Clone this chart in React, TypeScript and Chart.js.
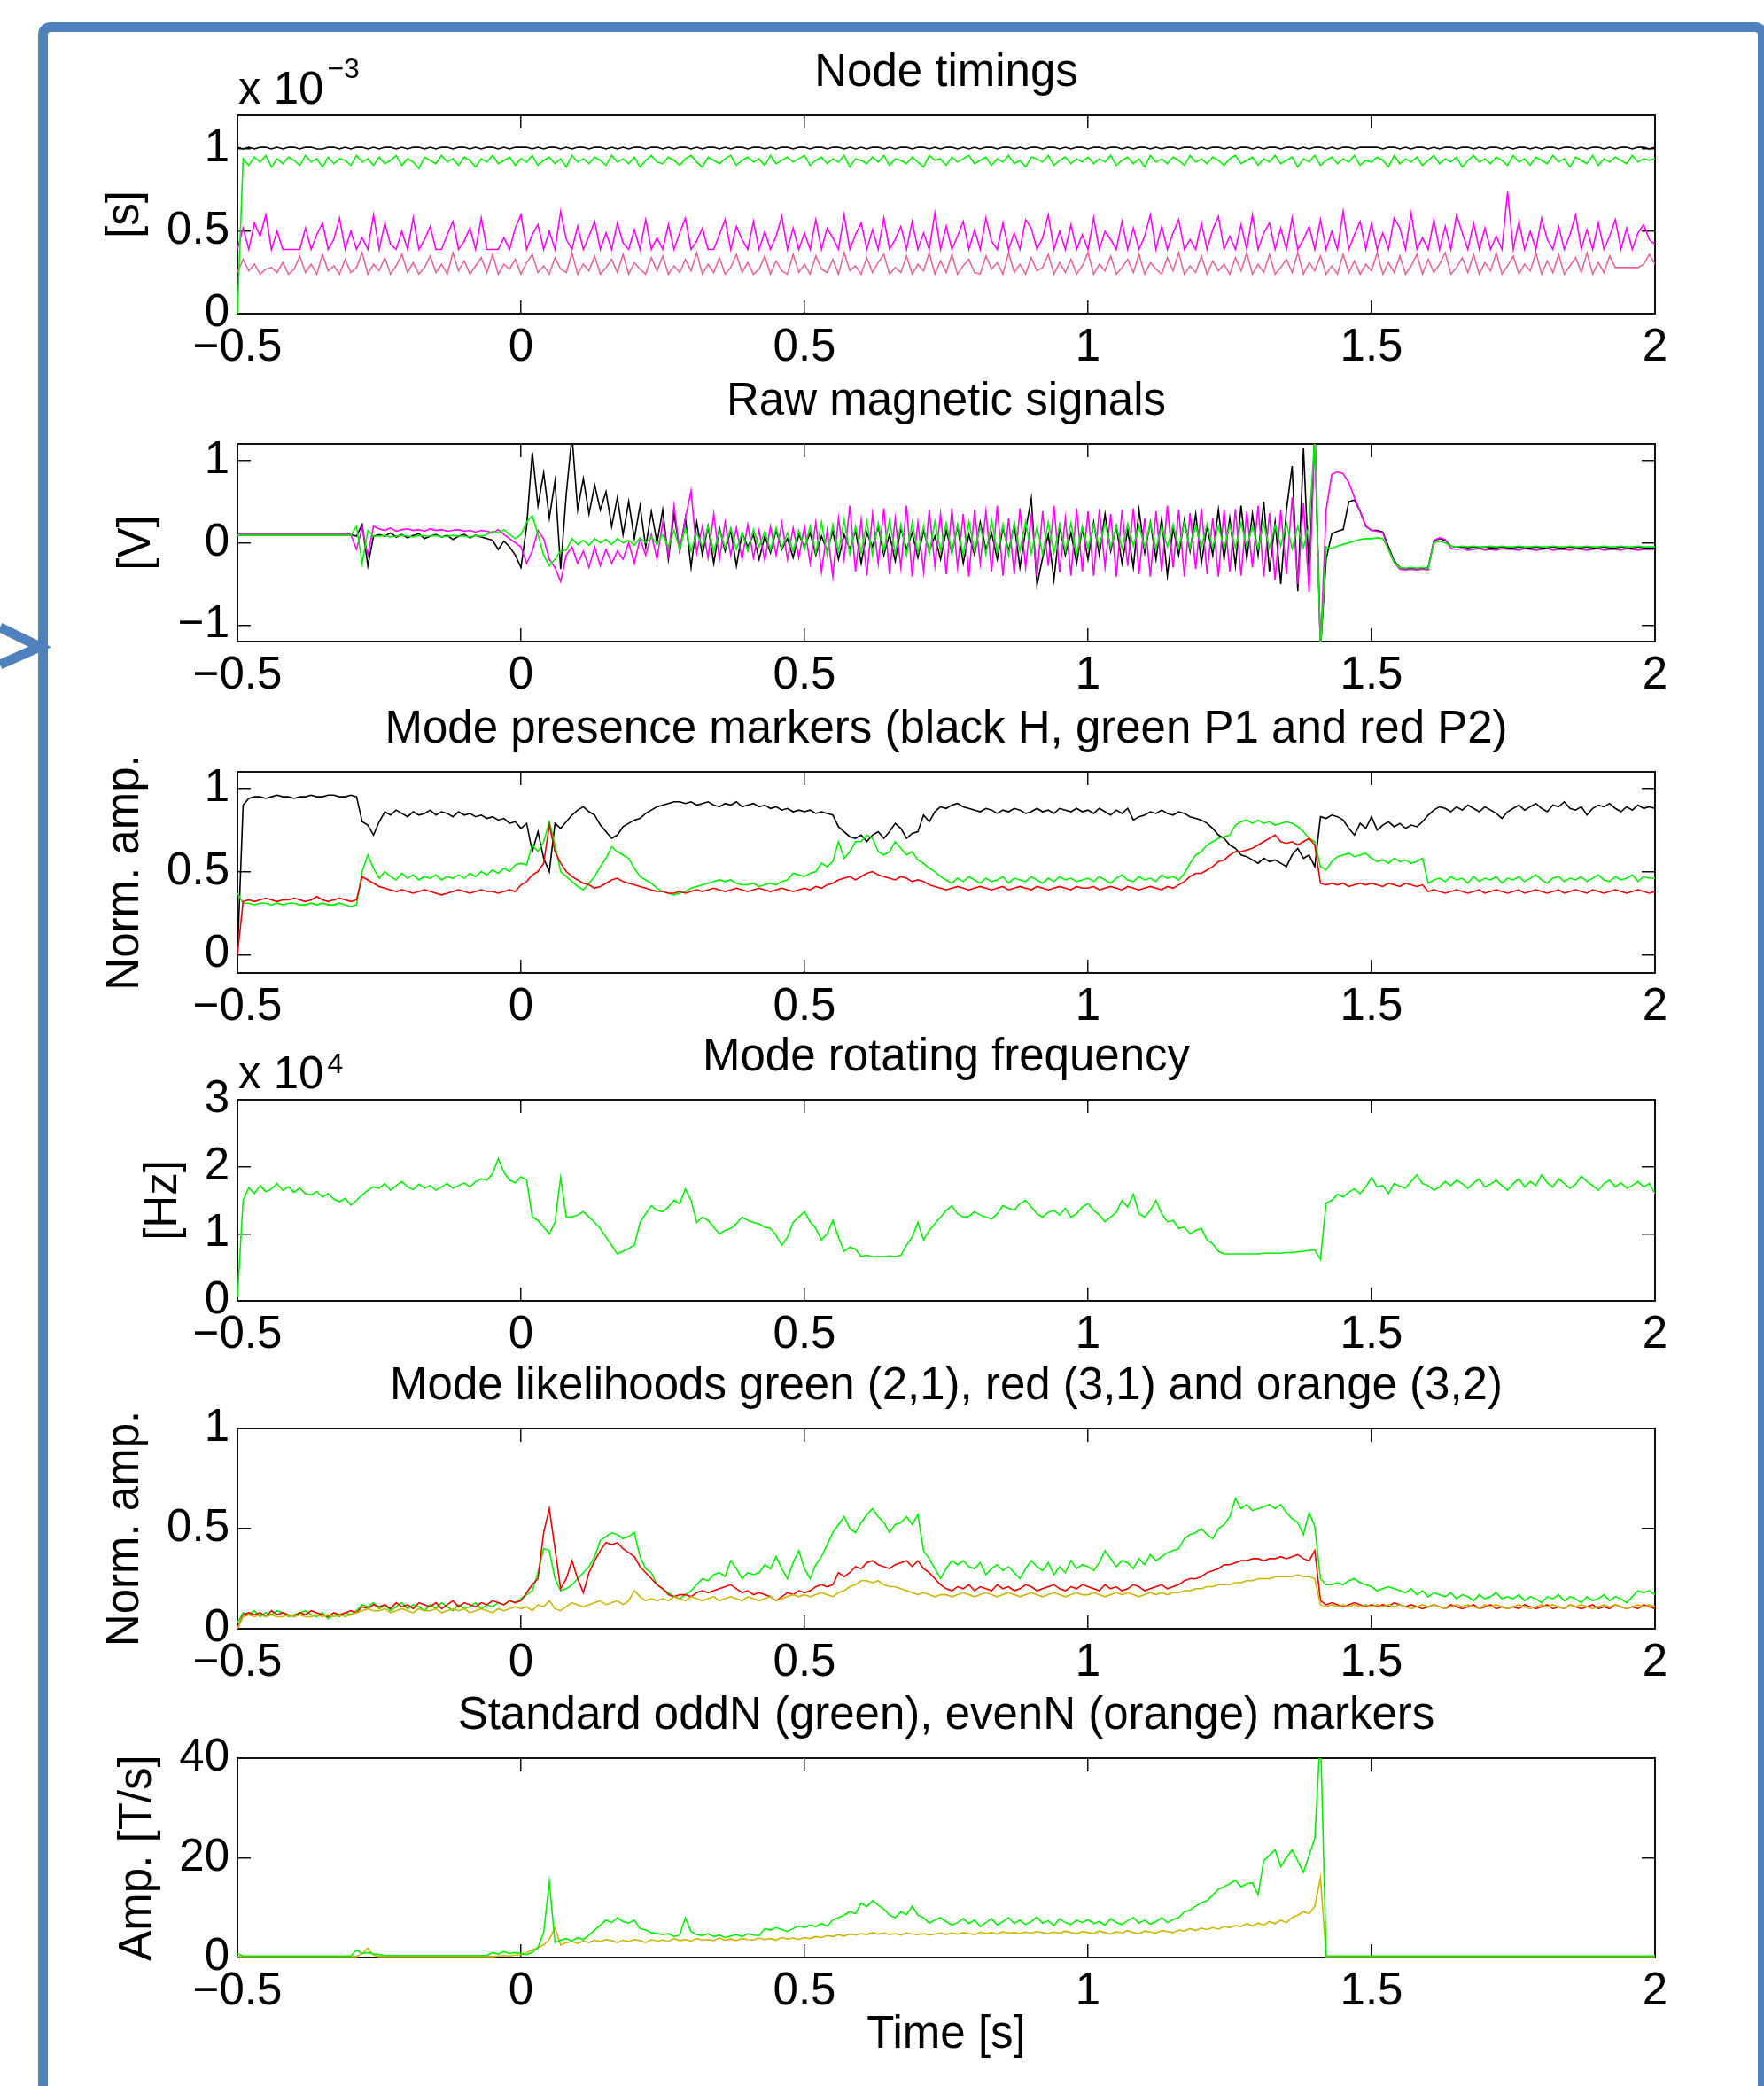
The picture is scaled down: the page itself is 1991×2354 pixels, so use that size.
import React, { useEffect, useRef } from "react";
import { Chart, registerables } from "chart.js";

Chart.register(...registerables);

// ---------------- layout constants ----------------
const PAGE_W = 1991;
const PAGE_H = 2354;
const PLOT_RIGHT = 1868;
const Y_AXIS_W = 268;
const TOP_SPACE = 76;
const FONT_FAMILY = '"Liberation Sans", Arial, Helvetica, sans-serif';
const FONT_SIZE = 51;
const SUP_SIZE = 32;
const BLUE = "#4f81bd";

// ---------------- sampling grid (time axis, s) ----------------
const T_START = -0.5;
const T_STEP = 0.01;
const X_MIN = -0.5;
const X_MAX = 2;
const X_STEP = 0.5;

// ---------------- data (251 samples each, t = -0.5 ... 2.0 every 0.01 s) ----------------
// Panel 1: node timings, stored in units of 1e-5 s
const p1Black = [
  101,100,101,100,101,101,100,101,100,101,101,100,101,101,100,100,101,101,100,101,100,101,101,100,101,
  100,101,101,100,101,100,101,101,100,101,100,101,101,100,101,101,100,101,100,101,101,100,101,100,101,
  101,101,100,101,100,101,101,100,101,100,101,101,100,101,101,100,101,100,101,100,101,101,100,101,101,
  100,101,100,101,101,100,101,100,101,101,100,101,100,101,101,100,101,101,100,101,100,101,101,100,101,
  101,100,101,101,100,101,101,100,101,100,101,100,101,101,100,101,100,101,101,100,101,101,100,101,100,
  101,101,100,101,100,101,100,101,101,100,101,101,100,101,100,101,101,100,101,101,100,101,100,101,101,
  100,101,101,100,101,101,100,101,100,101,101,100,101,100,101,101,100,101,101,100,101,100,101,101,100,
  101,100,101,101,100,101,100,101,101,100,101,101,100,101,100,101,101,100,101,100,101,101,100,101,101,
  101,101,100,101,101,100,101,100,101,101,100,101,100,101,101,100,101,101,100,101,100,101,101,100,101,
  100,101,101,100,101,100,101,101,100,101,101,100,101,100,101,101,100,101,100,101,101,100,101,101,100,
  101,
];
const p1Green = [
  0,94,90,95,92,96,89,94,91,95,93,90,96,92,94,89,95,91,94,93,90,96,92,94,90,
  95,91,93,96,90,94,92,88,95,93,91,96,92,94,90,95,93,89,94,92,96,91,93,95,90,
  94,92,96,90,93,95,91,94,89,96,92,94,91,95,93,90,96,92,94,91,95,89,93,96,92,
  91,95,93,90,94,96,92,89,95,93,91,94,96,90,93,95,92,94,90,96,91,93,95,92,94,
  96,90,93,95,91,94,92,96,89,94,93,91,95,92,96,90,94,93,91,95,92,89,96,93,94,
  90,95,92,94,96,91,93,95,90,94,92,96,91,93,89,95,94,92,96,90,93,95,91,94,92,
  95,91,94,92,96,90,93,95,91,94,89,96,92,94,91,95,93,90,96,92,94,91,95,93,90,
  94,96,91,93,95,90,94,92,96,91,93,95,89,94,92,96,90,93,95,91,94,92,96,90,93,
  92,95,93,89,96,91,94,92,95,90,93,96,91,94,92,95,89,93,96,92,94,91,95,93,90,
  96,92,94,90,95,93,91,96,92,94,89,95,93,91,96,90,94,92,95,93,91,96,92,94,93,
  94,
];
const p1Magenta = [
  39,52,39,55,47,60,39,50,39,39,39,39,52,39,48,55,39,45,58,39,50,39,46,39,60,
  39,55,42,39,50,39,58,39,45,53,39,39,48,56,39,44,52,39,58,39,39,39,46,39,52,
  60,39,48,54,39,50,39,62,45,39,53,39,47,56,39,49,39,55,43,39,51,39,57,39,46,
  39,54,39,49,58,39,44,52,39,39,48,57,39,53,45,39,56,39,50,39,47,59,39,52,39,
  49,39,57,39,52,46,39,60,39,48,55,39,51,39,58,39,45,53,39,56,39,49,39,61,39,
  53,39,47,56,39,51,39,58,44,39,55,39,49,39,57,52,39,46,60,39,50,39,54,39,48,
  39,58,39,50,45,39,56,39,52,39,47,60,39,53,39,49,57,39,45,39,55,39,51,59,39,
  47,39,54,39,60,39,49,55,39,52,39,58,39,45,53,39,57,39,50,39,62,39,48,56,39,
  55,39,49,39,58,52,39,61,39,46,39,57,39,53,39,60,49,39,55,39,52,39,47,39,74,
  39,56,39,50,39,58,45,39,53,39,48,60,39,51,39,55,39,47,57,39,52,39,49,54,45,
  42,
];
const p1Pink = [
  25,33,26,30,24,27,28,25,31,24,27,35,25,30,24,36,26,29,24,33,25,28,37,24,30,
  26,34,24,29,36,25,31,24,28,35,25,30,24,37,26,32,24,29,34,25,36,24,30,27,33,
  24,31,36,25,29,24,34,27,25,37,24,30,26,35,24,28,33,25,36,24,31,27,24,34,26,
  35,24,29,25,33,26,37,24,30,25,34,24,28,36,25,31,24,27,35,24,32,26,24,36,25,
  30,24,35,27,25,33,24,37,26,29,24,34,25,31,36,24,28,25,35,24,30,26,37,24,32,
  25,36,24,29,33,25,24,35,27,31,24,37,25,30,24,34,26,28,36,24,31,25,33,24,29,
  37,24,30,26,35,24,28,33,25,36,24,31,27,24,34,26,37,24,29,25,35,24,32,26,30,
  24,34,26,37,24,30,25,36,24,28,33,25,37,24,31,26,35,24,29,24,36,25,32,24,30,
  26,37,24,31,25,35,24,29,36,24,33,25,30,37,24,28,34,25,36,24,31,26,37,24,29,
  35,24,30,26,37,24,32,25,36,24,29,34,25,37,24,31,25,35,28,28,28,28,28,30,36,
  30,
];

// Panel 2: raw magnetic signals, stored in units of 0.01 V
const p2Black = [
  10,10,10,10,10,10,10,10,10,10,10,10,10,10,10,10,10,10,10,10,10,8,22,-28,8,
  10,8,12,7,10,6,9,11,5,8,10,7,9,4,8,10,6,9,7,5,3,-8,2,-5,-15,
  -30,20,110,45,85,30,75,-32,60,130,40,78,35,70,40,62,20,55,10,50,5,45,-5,38,0,
  40,-20,35,-10,30,-30,25,-15,20,-25,18,-10,15,-28,12,-5,10,-20,8,-12,15,-8,5,-18,10,
  -5,12,-15,8,-10,14,-20,10,-8,15,-25,12,-5,20,-15,10,-22,18,-8,12,-18,15,-10,8,-20,
  15,-12,20,-25,10,-15,25,-8,12,-20,18,-10,22,-30,15,54,-52,-18,10,-45,20,-15,12,-25,18,
  -20,25,-15,35,-10,20,-25,15,-30,40,-12,25,-20,30,-40,18,-15,28,-10,35,-25,20,-15,40,-20,
  30,-28,45,-20,35,-15,50,-35,25,-50,40,93,-59,115,-40,135,-130,-20,11,14,16,50,52,38,20,
  15,15,13,-5,-22,-30,-32,-31,-32,-31,-30,2,5,3,-4,-5,-5,-6,-5,-6,-5,-6,-6,-5,-6,
  -6,-5,-6,-6,-5,-6,-6,-5,-6,-6,-5,-6,-6,-5,-6,-6,-5,-6,-6,-5,-6,-6,-5,-6,-6,
  -6,
];
const p2Magenta = [
  10,10,10,10,10,10,10,10,10,10,10,10,10,10,10,10,10,10,10,10,10,-8,18,-15,20,
  17,15,18,14,16,17,15,16,14,17,15,16,14,15,16,14,15,13,15,14,12,16,10,5,0,
  -5,-25,-10,15,5,-20,-30,-47,-15,-5,-25,-10,-30,-5,-28,-8,-25,-10,-20,0,-25,5,-15,10,-20,
  25,-15,45,-10,30,63,-12,20,-18,35,-20,25,-15,18,-20,22,-18,15,-22,20,-15,24,-20,18,-18,
  20,-25,25,-35,15,-41,30,-20,45,-35,28,-40,35,-25,42,-38,30,-30,45,-41,25,-35,40,-28,35,
  -38,42,-30,35,-41,40,-25,38,-35,45,-40,30,-38,42,-30,35,-41,38,-28,45,-36,30,-40,42,-35,
  38,-40,41,-30,35,-41,40,-28,42,-38,30,-41,38,-35,45,-30,40,-41,36,-32,42,-38,30,-41,40,
  -35,41,-40,38,-30,45,-41,36,-45,40,-38,55,-50,48,-60,130,-130,40,83,86,84,73,55,38,20,
  15,14,12,-8,-24,-32,-33,-32,-33,-32,-33,3,6,4,-7,-8,-7,-9,-8,-7,-9,-8,-9,-7,-8,
  -8,-9,-7,-8,-9,-8,-7,-9,-8,-8,-9,-7,-8,-9,-8,-7,-9,-8,-8,-9,-7,-8,-9,-8,-8,
  -8,
];
const p2Green = [
  9,9,9,9,9,9,9,9,9,9,9,9,9,9,9,9,9,9,9,9,9,20,-25,15,8,
  8,9,7,8,9,8,7,9,8,8,9,7,8,9,8,8,7,9,8,10,14,12,16,10,5,
  10,25,33,10,-15,-28,-20,-10,-9,5,-2,3,-3,5,0,4,-2,5,0,3,-3,6,0,7,-2,
  10,-5,15,-8,18,-10,12,-5,20,-11,15,-6,18,-8,12,-10,16,-5,14,-9,18,-6,12,-10,15,
  -8,20,-12,25,-15,22,-10,28,-14,20,-12,26,-15,24,-10,28,-13,22,-15,25,-12,20,-14,26,-10,
  24,-12,22,-15,26,-10,20,-14,28,-12,22,-15,24,-10,26,-13,20,-14,25,-12,22,-10,24,-15,20,
  -7,22,-5,24,-6,20,-7,23,-4,21,-6,24,-7,20,-5,22,-6,24,-7,21,-5,23,-6,20,-7,
  22,-6,24,-5,20,-7,23,-6,21,-4,24,-7,20,-6,22,130,-130,-5,-7,-4,-2,0,2,4,5,
  5,6,5,-8,-24,-30,-31,-30,-31,-30,-31,0,2,0,-4,-5,-4,-5,-4,-5,-5,-4,-5,-4,-5,
  -5,-4,-5,-5,-4,-5,-5,-4,-5,-5,-4,-5,-5,-4,-5,-5,-4,-5,-5,-4,-5,-5,-4,-5,-5,
  -5,
];

// Panel 3: mode presence markers, normalised amplitude x100
const p3Black = [
  0,90,94,95,95,94,95,96,95,95,94,95,95,96,95,95,96,96,95,95,96,95,80,78,72,
  80,86,84,87,85,83,86,84,85,87,84,86,85,83,86,84,85,83,84,82,83,81,82,79,80,
  76,79,62,74,58,50,79,76,80,84,87,89,86,84,78,74,70,72,77,79,81,82,85,87,89,
  90,91,92,92,91,92,90,91,92,90,89,91,90,92,89,90,91,89,90,88,89,87,88,86,87,
  86,87,85,86,85,84,77,74,71,70,72,68,72,74,70,74,79,76,70,73,74,84,80,86,89,
  88,90,91,89,88,87,86,88,87,85,87,86,88,87,85,86,88,86,87,85,88,87,86,88,86,
  87,85,88,86,84,87,85,88,81,83,84,86,85,87,85,84,86,85,83,82,81,79,76,72,70,
  66,64,60,59,57,55,58,56,57,55,53,60,64,58,60,53,83,82,84,83,81,76,72,79,76,
  83,75,78,80,77,79,76,78,77,80,84,87,89,88,86,89,87,90,88,86,89,87,85,82,86,
  88,90,87,89,91,88,86,90,89,92,88,87,89,84,88,90,89,91,88,86,89,87,90,88,89,
  88,
];
const p3Green = [
  37,31,31,30,31,31,30,31,30,31,31,30,30,31,30,31,30,30,31,30,29,30,50,60,52,
  46,50,47,45,49,46,48,45,47,46,48,45,47,46,48,46,49,47,50,48,51,49,52,50,54,
  55,54,66,62,68,80,66,50,47,44,41,39,43,47,53,58,65,62,60,58,52,47,45,43,40,
  38,37,36,37,38,40,41,42,43,44,45,44,45,43,42,42,43,41,42,43,42,44,45,49,48,
  47,49,50,55,53,56,68,58,62,68,68,72,70,62,60,62,68,64,60,62,57,55,52,50,47,
  45,43,46,44,47,45,43,46,44,45,47,43,46,45,44,47,45,43,46,44,47,45,46,44,45,
  46,44,47,45,43,46,48,45,44,47,45,46,44,48,46,47,45,49,55,60,62,66,68,70,71,
  72,78,80,81,79,81,79,80,78,79,80,79,77,74,70,68,53,51,56,59,60,61,59,60,61,
  58,56,57,55,58,56,57,55,56,58,43,45,46,44,47,45,46,43,47,44,46,45,47,43,46,
  45,47,44,46,48,45,43,46,47,44,46,45,47,44,46,48,45,44,47,45,46,48,44,47,46,
  46,
];
const p3Red = [
  0,32,33,32,33,34,33,32,33,33,34,33,32,33,35,33,32,33,34,33,32,33,47,45,43,
  41,40,39,38,39,38,37,38,39,38,37,36,37,38,39,38,37,38,39,38,38,37,38,39,38,
  42,44,48,50,55,78,62,55,50,47,45,43,42,40,41,43,45,46,44,43,42,41,40,39,38,
  38,37,37,38,37,38,39,38,39,40,39,38,39,40,39,38,39,40,39,38,39,40,39,38,39,
  40,39,41,40,42,43,45,46,47,45,47,49,50,48,47,46,45,47,46,44,45,44,42,41,40,
  39,40,41,40,39,40,41,40,39,40,41,39,40,41,40,39,41,40,39,40,41,40,39,41,40,
  40,41,39,40,41,40,39,41,40,39,40,41,40,39,41,40,42,44,47,49,49,51,53,56,57,
  60,62,62,63,64,66,68,70,72,68,67,68,66,68,70,66,43,42,43,42,43,41,42,43,42,
  43,42,41,43,42,41,43,42,41,42,38,39,38,37,38,39,38,37,38,39,37,38,39,38,37,
  38,39,37,38,39,38,37,38,39,37,38,39,38,37,39,38,37,38,39,38,37,38,39,38,37,
  38,
];

// Panel 4: mode rotating frequency, stored in units of 100 Hz
const p4Green = [
  5,150,169,160,172,163,167,175,165,170,162,168,160,158,163,155,160,152,148,153,143,150,158,165,170,
  168,175,165,172,178,170,166,174,168,172,165,170,175,168,172,176,170,178,182,180,190,212,192,180,176,
  185,180,125,120,110,100,117,184,125,125,128,133,125,117,108,95,83,70,74,78,83,117,130,142,135,
  133,140,150,145,167,150,117,125,120,110,100,105,108,115,125,120,117,115,110,108,98,83,95,117,125,
  133,118,108,91,100,120,95,74,80,77,66,68,66,66,66,67,66,68,83,95,117,91,105,115,125,
  135,142,130,125,126,133,128,125,122,130,142,138,135,145,150,140,130,125,132,135,128,138,125,130,140,
  145,135,128,118,125,132,150,140,159,130,125,135,150,130,118,120,108,110,100,105,108,91,85,74,70,
  70,70,70,70,70,70,71,71,71,71,72,72,73,74,75,76,62,146,150,159,155,162,167,160,170,
  184,170,172,160,175,171,168,178,188,175,172,165,170,178,172,180,175,168,176,182,170,174,180,172,165,
  175,182,170,178,172,188,176,170,182,175,168,174,186,178,172,165,175,180,170,176,168,172,178,170,175,
  160,
];

// Panel 5: mode likelihoods, normalised amplitude x100
const p5Green = [
  3,8,7,9,6,8,7,9,8,6,7,8,9,7,6,8,5,7,6,8,7,9,12,11,13,
  10,12,9,11,13,10,12,11,9,12,10,13,11,9,12,10,11,13,10,12,11,13,12,14,13,
  15,17,19,28,40,39,25,19,20,22,25,28,31,36,44,46,48,47,45,46,48,36,30,28,22,
  20,18,16,15,17,19,22,25,24,27,28,26,34,30,25,28,27,28,32,30,36,30,25,33,39,
  30,25,32,36,42,48,52,56,50,48,53,57,60,56,53,48,52,53,56,52,57,39,35,30,25,
  30,34,32,34,31,30,33,27,30,32,29,31,28,25,30,34,31,29,33,27,31,28,34,30,32,
  31,29,33,39,35,31,34,33,30,35,32,37,34,36,38,39,40,45,47,48,50,47,45,50,52,
  56,65,60,62,59,60,61,62,60,62,58,55,53,47,58,51,25,22,22,23,22,24,25,23,22,
  21,19,20,21,20,19,18,20,17,19,16,18,17,16,18,15,17,16,14,17,15,16,18,15,16,
  15,17,14,16,15,13,16,15,17,14,16,15,13,16,14,15,17,14,16,15,13,16,19,18,19,
  17,
];
const p5Red = [
  0,7,8,7,8,6,9,7,8,7,6,8,7,9,8,7,6,8,7,8,9,8,11,10,12,
  11,12,10,13,11,12,10,13,12,11,13,10,12,14,11,13,12,11,13,12,14,13,12,14,13,
  14,18,22,25,48,60,40,20,25,34,25,18,28,34,39,43,42,43,40,38,36,31,28,25,22,
  20,17,16,17,17,16,18,19,18,19,20,21,22,20,18,19,17,18,17,16,14,16,18,17,19,
  18,19,21,22,21,22,28,26,28,31,30,33,34,32,31,30,32,33,34,31,34,30,28,25,22,
  20,19,21,20,22,19,21,20,19,22,20,21,19,20,22,21,19,20,21,22,20,19,21,20,22,
  21,20,19,22,20,21,19,20,22,21,19,20,21,22,20,21,22,24,25,25,26,28,29,30,32,
  32,33,34,34,35,35,34,35,35,36,35,36,37,35,34,39,14,12,13,12,11,12,13,12,11,
  12,11,12,11,13,12,11,12,11,10,11,12,11,10,12,11,10,11,12,10,11,12,10,11,10,
  11,10,12,11,10,11,12,10,11,10,12,11,10,11,12,10,11,10,12,11,10,11,10,12,11,
  10,
];
const p5Orange = [
  0,6,7,6,7,6,7,6,6,7,6,7,6,6,7,6,7,6,7,6,7,8,9,10,9,
  9,10,8,9,10,9,8,10,9,9,10,8,9,10,9,10,8,9,10,9,8,10,9,10,11,
  10,11,9,12,11,14,10,9,11,13,12,11,12,13,14,12,13,14,12,14,19,16,14,15,14,
  15,14,16,15,14,16,15,14,15,16,14,15,16,15,14,16,15,14,15,16,14,15,16,17,16,
  17,16,17,18,17,16,18,19,21,22,24,24,23,24,22,21,21,20,19,18,17,18,17,16,17,
  17,16,17,18,17,16,17,18,17,16,17,18,17,16,17,18,17,16,17,18,17,16,17,18,17,
  17,18,17,16,17,18,17,18,17,16,17,18,17,18,17,18,18,19,19,20,20,21,21,22,22,
  22,23,23,24,24,25,25,25,26,26,26,26,27,26,26,25,12,11,12,11,12,11,12,11,12,
  11,12,11,12,11,12,11,10,11,12,11,12,11,10,11,12,11,12,11,10,12,11,12,11,10,
  11,12,11,10,11,12,11,12,11,10,12,11,12,11,10,11,12,11,12,11,10,11,12,11,12,
  11,
];

// Panel 6: standard oddN / evenN markers, T/s
const p6Green = [
  0.8,0.3,0.3,0.3,0.3,0.3,0.3,0.3,0.3,0.3,0.3,0.3,0.3,0.3,0.3,0.3,0.3,0.3,0.3,0.3,0.3,1.5,0.8,1.0,0.7,
  0.6,0.4,0.4,0.4,0.4,0.4,0.4,0.4,0.4,0.4,0.4,0.4,0.4,0.4,0.4,0.4,0.4,0.4,0.4,0.4,1.0,0.7,1.2,0.8,1.0,
  0.8,0.6,1.0,2.0,5.0,15.2,3.0,3.5,3.8,3.3,4.0,3.6,4.5,5.5,6.5,7.5,7.0,8.0,7.2,6.9,7.5,5.8,5.5,5.0,4.8,
  4.6,4.8,4.2,4.5,8.0,5.2,4.6,4.4,4.8,4.2,4.5,4.0,4.3,4.6,4.2,4.8,4.5,4.4,5.8,5.5,6.0,5.6,5.2,5.8,6.3,
  6.0,6.5,6.2,6.8,6.3,7.5,8.0,8.5,9.2,8.8,10.9,10.2,11.4,10.5,9.7,8.5,8.0,9.2,8.6,10.3,8.5,8.0,6.9,7.5,8.0,
  7.2,6.5,7.0,7.8,6.8,7.5,6.2,7.0,7.8,6.5,7.2,8.0,6.8,7.5,6.6,7.2,8.1,6.9,7.4,6.4,7.8,7.0,6.6,7.5,7.0,
  7.6,6.8,7.2,6.5,7.8,7.0,6.6,7.4,8.0,6.9,7.5,6.7,7.2,8.0,7.0,7.6,8.0,9.2,9.5,10.3,11.0,11.4,12.5,13.7,14.2,
  14.8,15.5,14.2,14.8,15.0,12.6,19.4,20.5,21.6,18.2,20.0,21.6,19.4,17.1,20.5,23.9,45,0.3,0.3,0.3,0.3,0.3,0.3,0.3,0.3,
  0.3,0.3,0.3,0.3,0.3,0.3,0.3,0.3,0.3,0.3,0.3,0.3,0.3,0.3,0.3,0.3,0.3,0.3,0.3,0.3,0.3,0.3,0.3,0.3,0.3,
  0.3,0.3,0.3,0.3,0.3,0.3,0.3,0.3,0.3,0.3,0.3,0.3,0.3,0.3,0.3,0.3,0.3,0.3,0.3,0.3,0.3,0.3,0.3,0.3,0.3,
  0.3,
];
const p6Orange = [
  0.2,0.2,0.2,0.2,0.2,0.2,0.2,0.2,0.2,0.2,0.2,0.2,0.2,0.2,0.2,0.2,0.2,0.2,0.2,0.2,0.2,0.2,0.8,1.9,0.5,
  0.2,0.2,0.2,0.2,0.2,0.2,0.2,0.2,0.2,0.2,0.2,0.2,0.2,0.2,0.2,0.2,0.2,0.2,0.2,0.2,0.2,0.3,0.4,0.3,0.5,
  0.5,1.0,1.5,2.0,2.5,3.6,6.0,2.5,3.0,3.2,2.8,3.3,3.0,3.5,3.2,3.6,3.4,3.0,3.5,3.2,3.6,3.4,3.0,3.6,3.3,
  3.5,3.2,3.8,3.4,3.6,3.3,3.8,3.5,3.6,3.4,3.9,3.5,3.7,3.4,3.8,3.6,3.5,3.9,3.6,3.8,3.5,4.0,3.7,3.9,3.6,
  4.0,3.8,4.2,4.0,4.4,4.2,4.6,4.3,4.7,4.5,4.8,4.6,5.0,4.7,4.9,4.6,4.8,4.5,4.9,4.7,4.6,4.8,4.5,4.7,4.9,
  4.6,4.9,4.7,5.0,4.8,4.6,5.1,4.8,5.0,4.7,5.2,4.9,5.0,4.8,5.1,4.9,5.2,5.0,4.8,5.1,4.9,5.3,5.0,4.8,5.2,
  5.0,4.8,5.3,5.0,4.7,5.2,4.9,5.4,5.0,4.8,5.3,5.1,4.9,5.4,5.2,5.0,5.5,5.3,5.8,5.4,5.9,5.6,6.0,5.7,6.2,
  6.0,6.4,6.2,6.8,6.3,6.9,6.5,7.2,6.8,7.5,7.0,8.0,8.5,9.2,8.8,10.3,16,0.2,0.2,0.2,0.2,0.2,0.2,0.2,0.2,
  0.2,0.2,0.2,0.2,0.2,0.2,0.2,0.2,0.2,0.2,0.2,0.2,0.2,0.2,0.2,0.2,0.2,0.2,0.2,0.2,0.2,0.2,0.2,0.2,0.2,
  0.2,0.2,0.2,0.2,0.2,0.2,0.2,0.2,0.2,0.2,0.2,0.2,0.2,0.2,0.2,0.2,0.2,0.2,0.2,0.2,0.2,0.2,0.2,0.2,0.2,
  0.2,
];

// ---------------- colours ----------------
const C_BLACK = "#000000";
const C_GREEN = "#00f000";
const C_MAGENTA = "#ff00ff";
const C_PINK = "#e8649a";
const C_RED = "#ee0000";
const C_ORANGE = "#cbb500";

// ---------------- panel definitions ----------------
type Series = { values: number[]; color: string; unit: number };
type PanelSpec = {
  title: string;
  yTitle: string;
  yTitlePad: number;
  top: number;
  bottom: number;
  yMin: number;
  yMax: number;
  yStep: number;
  series: Series[]; // first = drawn on top
  exponent?: { base: string; sup: string; rise: number };
  xTitle?: string;
};

const PANELS: PanelSpec[] = [
  {
    title: "Node timings", yTitle: "[s]", yTitlePad: 116, top: 130, bottom: 354,
    yMin: 0, yMax: 1.204, yStep: 0.5,
    series: [
      { values: p1Black, color: C_BLACK, unit: 0.01 },
      { values: p1Green, color: C_GREEN, unit: 0.01 },
      { values: p1Magenta, color: C_MAGENTA, unit: 0.01 },
      { values: p1Pink, color: C_PINK, unit: 0.01 },
    ],
    exponent: { base: "x 10", sup: "\u22123", rise: 42 },
  },
  {
    title: "Raw magnetic signals", yTitle: "[V]", yTitlePad: 129, top: 501, bottom: 724,
    yMin: -1.2, yMax: 1.2, yStep: 1,
    series: [
      { values: p2Green, color: C_GREEN, unit: 0.01 },
      { values: p2Magenta, color: C_MAGENTA, unit: 0.01 },
      { values: p2Black, color: C_BLACK, unit: 0.01 },
    ],
  },
  {
    title: "Mode presence markers (black H, green P1 and red P2)", yTitle: "Norm. amp.", yTitlePad: 116, top: 871, bottom: 1098,
    yMin: -0.11, yMax: 1.1, yStep: 0.5,
    series: [
      { values: p3Red, color: C_RED, unit: 0.01 },
      { values: p3Green, color: C_GREEN, unit: 0.01 },
      { values: p3Black, color: C_BLACK, unit: 0.01 },
    ],
  },
  {
    title: "Mode rotating frequency", yTitle: "[Hz]", yTitlePad: 159, top: 1241, bottom: 1468,
    yMin: 0, yMax: 3, yStep: 1,
    series: [{ values: p4Green, color: C_GREEN, unit: 0.01 }],
    exponent: { base: "x 10", sup: "4", rise: 30 },
  },
  {
    title: "Mode likelihoods green (2,1), red (3,1) and orange (3,2)", yTitle: "Norm. amp.", yTitlePad: 116, top: 1612, bottom: 1838,
    yMin: 0, yMax: 1, yStep: 0.5,
    series: [
      { values: p5Orange, color: C_ORANGE, unit: 0.01 },
      { values: p5Red, color: C_RED, unit: 0.01 },
      { values: p5Green, color: C_GREEN, unit: 0.01 },
    ],
  },
  {
    title: "Standard oddN (green), evenN (orange) markers", yTitle: "Amp. [T/s]", yTitlePad: 130, top: 1984, bottom: 2209,
    yMin: 0, yMax: 40, yStep: 20,
    series: [
      { values: p6Green, color: C_GREEN, unit: 1 },
      { values: p6Orange, color: C_ORANGE, unit: 1 },
    ],
    xTitle: "Time [s]",
  },
];

const fmtTick = (v: any) => {
  const n = Math.round(Number(v) * 1000) / 1000;
  return String(n).replace("-", "\u2212");
};

function Panel({ spec }: { spec: PanelSpec }) {
  const ref = useRef<HTMLCanvasElement | null>(null);
  const xH = spec.xTitle ? 113 : 70;
  const h = TOP_SPACE + (spec.bottom - spec.top) + xH;

  useEffect(() => {
    if (!ref.current) return;
    const font = { family: FONT_FAMILY, size: FONT_SIZE, lineHeight: 1, weight: "normal" };
    const grid = { display: true, drawOnChartArea: false, drawTicks: true, tickLength: -15, color: "#111", lineWidth: 1.5 };
    const border = { display: true, color: "#111", width: 2 };

    const exponentPlugin = {
      id: "exponentLabel",
      afterDraw(chart: any) {
        if (!spec.exponent) return;
        const { ctx, chartArea } = chart;
        ctx.save();
        ctx.fillStyle = "#000";
        ctx.textAlign = "left";
        ctx.textBaseline = "alphabetic";
        ctx.font = `${FONT_SIZE}px ${FONT_FAMILY}`;
        const x0 = chartArea.left + 1;
        ctx.fillText(spec.exponent.base, x0, chartArea.top - 13);
        const w = ctx.measureText(spec.exponent.base).width;
        ctx.font = `${SUP_SIZE}px ${FONT_FAMILY}`;
        ctx.fillText(spec.exponent.sup, x0 + w + 4, chartArea.top - spec.exponent.rise);
        ctx.restore();
      },
    };

    const datasets = spec.series.map((s) => ({
      data: s.values.map((v, i) => ({ x: Math.round((T_START + i * T_STEP) * 1000) / 1000, y: v * s.unit })),
      borderColor: s.color,
      backgroundColor: s.color,
      borderWidth: 1.6,
      pointRadius: 0,
      tension: 0,
      fill: false,
    }));

    const chart = new Chart(ref.current, {
      type: "line",
      data: { datasets },
      options: {
        responsive: false,
        animation: false,
        devicePixelRatio: 1,
        events: [],
        parsing: false,
        normalized: true,
        layout: { padding: 0, autoPadding: false },
        plugins: {
          legend: { display: false },
          tooltip: { enabled: false },
          title: {
            display: true,
            text: spec.title,
            color: "#000",
            fullSize: false,
            font: font,
            padding: { top: 3, bottom: 22 },
          },
        },
        scales: {
          x: {
            type: "linear",
            position: "bottom",
            min: X_MIN,
            max: X_MAX,
            afterFit: (s: any) => { s.height = xH; },
            ticks: { stepSize: X_STEP, autoSkip: false, maxRotation: 0, minRotation: 0, includeBounds: false, padding: 28.5, color: "#000", font: font, callback: fmtTick },
            grid: grid,
            border: border,
            title: spec.xTitle
              ? { display: true, text: spec.xTitle, color: "#000", font: font, padding: { top: 0, bottom: 0 } }
              : { display: false },
          },
          xTop: {
            type: "linear",
            position: "top",
            min: X_MIN,
            max: X_MAX,
            afterFit: (s: any) => { s.height = 0; },
            ticks: { display: false, stepSize: X_STEP, includeBounds: false },
            grid: grid,
            border: border,
          },
          y: {
            type: "linear",
            position: "left",
            min: spec.yMin,
            max: spec.yMax,
            afterFit: (s: any) => { s.width = Y_AXIS_W; },
            ticks: { stepSize: spec.yStep, autoSkip: false, includeBounds: false, padding: 24, color: "#000", font: font, callback: fmtTick },
            grid: grid,
            border: border,
            title: { display: true, text: spec.yTitle, color: "#000", font: font, padding: { top: spec.yTitlePad, bottom: 0 } },
          },
          yRight: {
            type: "linear",
            position: "right",
            min: spec.yMin,
            max: spec.yMax,
            afterFit: (s: any) => { s.width = PAGE_W - PLOT_RIGHT; },
            ticks: { display: false, stepSize: spec.yStep, includeBounds: false },
            grid: grid,
            border: border,
          },
        },
      } as any,
      plugins: [exponentPlugin],
    } as any);
    return () => chart.destroy();
  }, [spec]);

  return (
    <canvas
      ref={ref}
      width={PAGE_W}
      height={h}
      style={{ position: "absolute", left: 0, top: spec.top - TOP_SPACE, width: PAGE_W + "px", height: h + "px" }}
    />
  );
}

export default function App() {
  return (
    <div style={{ position: "absolute", left: 0, top: 0, width: PAGE_W, height: PAGE_H, overflow: "hidden", background: "#fff" }}>
      <div
        style={{
          position: "absolute",
          left: 43,
          top: 25,
          width: 1995 - 43,
          height: PAGE_H + 60,
          border: `11px solid ${BLUE}`,
          borderRadius: 14,
          boxSizing: "border-box",
        }}
      />
      <svg style={{ position: "absolute", left: 0, top: 690 }} width={60} height={80}>
        <polyline points="0,18 45,40 0,60" fill="none" stroke={BLUE} strokeWidth={11} strokeLinejoin="miter" />
      </svg>
      {PANELS.map((p, i) => (
        <Panel key={i} spec={p} />
      ))}
    </div>
  );
}
